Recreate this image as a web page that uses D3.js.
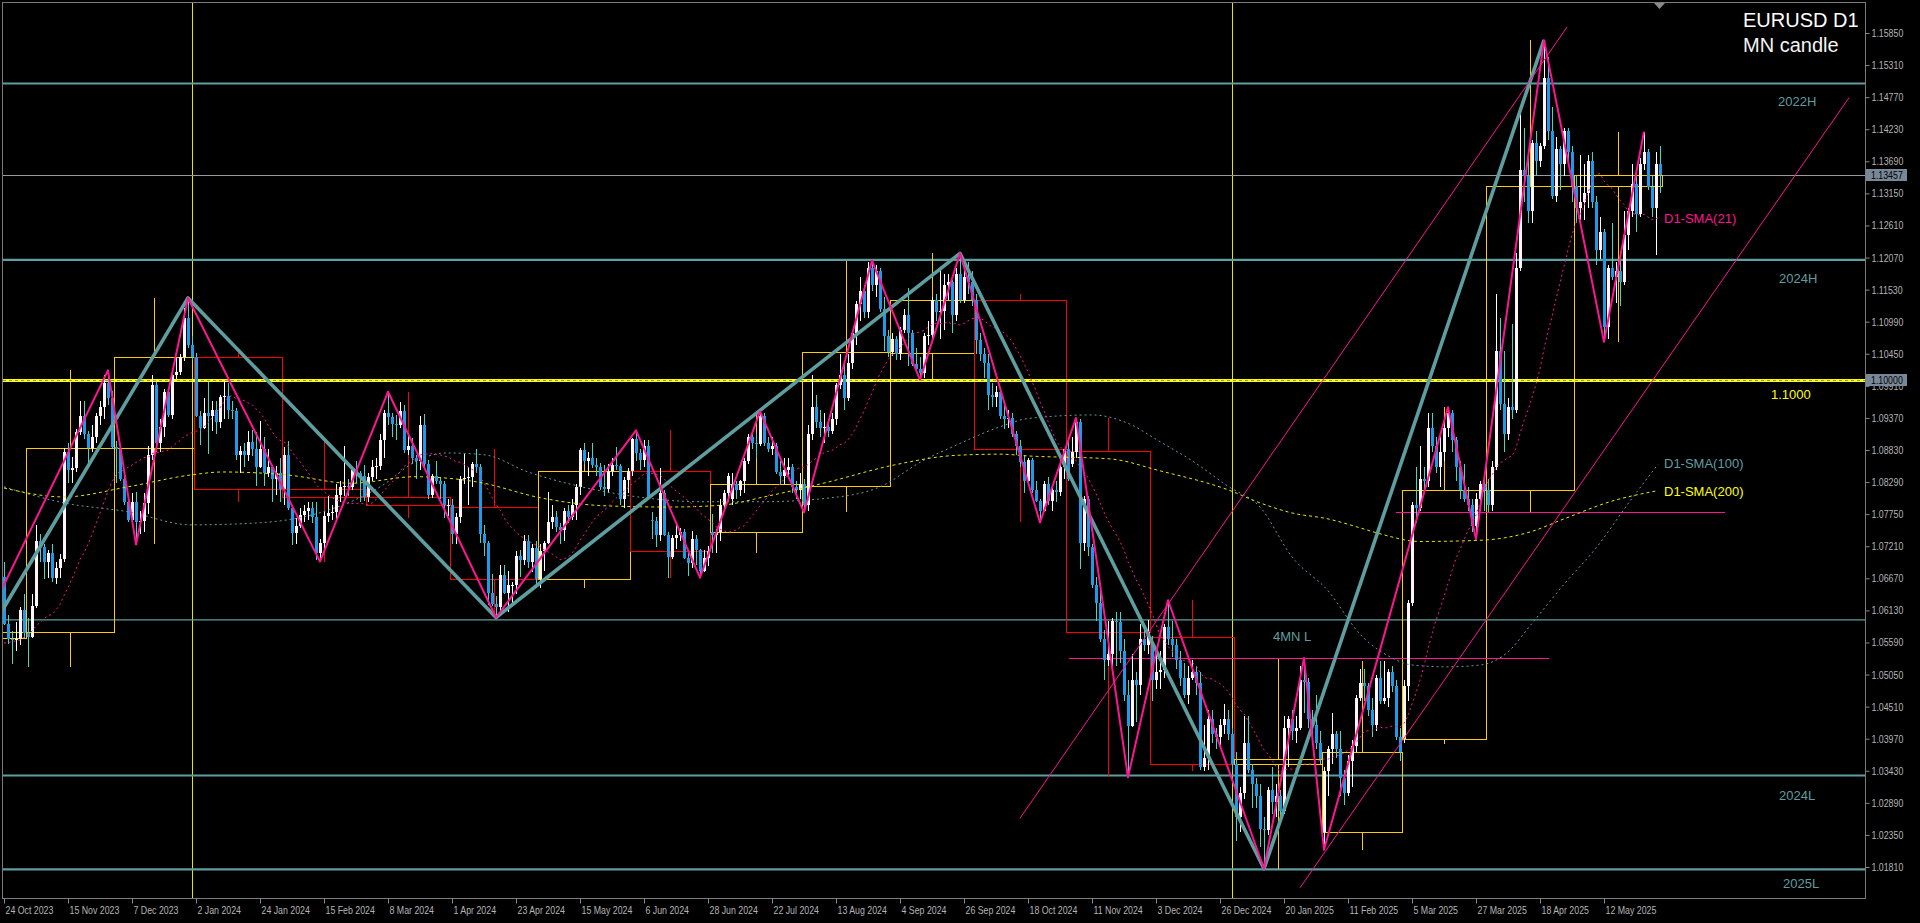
<!DOCTYPE html>
<html><head><meta charset="utf-8">
<script src="https://cdn.jsdelivr.net/npm/d3@7"></script>
<style>
html,body{margin:0;padding:0;background:#000;overflow:hidden;}
svg{display:block;}
text{font-family:"Liberation Sans",Arial,sans-serif;}
.ax text{font-family:"Liberation Sans",Arial,sans-serif;font-size:11px;fill:#b4b4b4;}
</style></head><body>
<svg id="c" width="1920" height="923"></svg>
<script>
// ---------------- DATA ----------------
// closes of the 20 sessions before the first visible bar (26 Sep - 23 Oct 2023), used for SMA(21)
const preCloses = [1.0570,1.0500,1.0565,1.0573,1.0475,1.0470,1.0505,1.0550,1.0588,1.0565,1.0605,1.0620,1.0530,1.0510,1.0555,1.0575,1.0535,1.0580,1.0595,1.0670];

// daily EURUSD bars from 24 Oct 2023, [open, high, low, close] in pips above 1.0000
const ohlc = [
[670,695,588,590],[590,606,557,565],[565,578,522,564],[564,594,545,565],[565,618,555,613],[613,640,567,575],
[575,600,517,568],[568,640,567,620],[620,756,617,730],[730,742,694,720],[720,725,665,695],[695,715,668,710],[710,725,660,667],[667,695,657,685],[685,708,667,700],[700,887,694,880],[880,895,828,850],[850,872,828,852],[852,918,846,913],[913,965,908,940],[940,965,902,910],[910,915,852,887],[887,925,880,905],[905,945,895,940],[940,965,925,955],[955,1010,935,995],[995,1017,958,970],[970,982,885,888],
[888,898,828,884],[884,892,830,835],[835,840,790,795],[795,805,762,765],[765,810,756,795],[795,813,724,762],[762,780,742,763],[763,810,745,794],[794,890,775,874],[874,1009,866,993],[993,998,880,895],[895,935,880,922],[922,985,905,980],[980,985,938,942],[942,1012,935,1010],[1010,1040,1002,1015],[1015,1045,1010,1040],[1040,1122,1032,1105],[1105,1139,1055,1060],[1060,1075,1034,1039],
[1039,1046,938,940],[940,948,892,920],[920,970,918,945],[945,998,877,940],[940,965,915,950],[950,965,910,930],[930,975,920,972],[972,999,935,974],[974,995,935,950],[950,965,935,948],[948,953,866,875],[875,890,844,882],[882,895,855,875],[875,915,865,897],[897,917,873,885],[885,914,822,855],[855,932,852,885],[885,905,822,845],[845,885,838,855],[855,858,795,835],[835,856,807,845],[845,870,796,818],
[818,888,790,875],[875,898,782,785],[785,790,723,743],[743,769,725,755],[755,785,752,774],[774,790,762,780],[780,795,765,785],[785,795,760,770],[770,795,698,710],[710,733,695,726],[726,780,718,772],[772,805,762,777],[777,790,765,779],[779,825,761,808],[808,830,795,820],[820,889,805,823],[823,835,805,820],[820,855,815,850],[850,865,828,845],[845,848,796,840],[840,858,797,804],
[804,845,796,838],[838,866,830,855],[855,870,835,856],[856,910,850,900],[900,950,870,946],[946,981,925,938],[938,945,905,927],[927,942,900,925],[925,964,920,948],[948,958,878,883],[883,906,875,890],[890,904,860,870],[870,875,835,865],[865,940,850,925],[925,943,855,860],[860,866,800,808],[808,843,802,840],[840,865,826,830],[830,838,800,825],[825,830,768,790],[790,800,772,791],
[791,800,724,741],[741,777,725,770],[770,840,760,835],[835,876,825,836],[836,855,791,838],[838,862,820,860],[860,885,845,855],[855,860,727,742],[742,757,705,727],[727,730,622,642],[642,674,620,624],[624,637,601,618],[618,690,610,672],[672,690,640,643],[643,680,610,655],[655,660,623,656],[656,713,640,704],[704,715,669,697],[697,740,690,730],[730,740,685,694],[694,725,678,718],[718,730,650,666],
[666,725,650,713],[713,730,680,726],[726,812,725,762],[762,790,750,770],[770,780,745,754],[754,760,724,748],[748,785,730,781],[781,790,760,771],[771,800,765,790],[790,825,765,821],[821,887,808,883],[883,895,860,865],[865,880,840,870],[870,895,853,857],[857,870,840,855],[855,861,815,820],[820,857,805,817],[817,860,811,847],[847,870,840,858],[858,888,850,856],[856,860,790,800],[800,838,785,832],[832,852,810,848],
[848,904,840,902],[902,916,865,878],[878,885,850,867],[867,900,855,890],[890,900,800,801],[765,779,733,763],[763,770,719,740],[740,852,730,810],[810,815,738,740],[740,745,668,703],[703,740,700,735],[735,761,716,740],[740,752,730,745],[745,750,700,702],[702,710,671,692],[692,746,685,733],[733,740,690,715],[715,717,668,680],[680,715,677,701],[701,721,687,713],
[745,776,710,740],[740,750,709,745],[745,800,730,790],[790,815,780,810],[810,845,795,840],[800,845,790,825],[825,830,800,815],[815,832,805,830],[830,870,810,865],[865,910,860,905],[905,910,885,895],[895,910,870,893],[893,948,890,940],[940,945,890,895],[895,905,880,885],[885,905,875,890],[890,895,842,846],[846,865,825,840],[840,870,825,850],[850,870,840,855],[855,860,810,820],[820,830,800,815],[815,845,800,825],
[825,835,778,790],[790,925,780,910],[910,1009,900,955],[955,975,920,930],[930,950,905,920],[920,945,895,922],[922,935,905,915],[915,945,910,935],[935,995,925,992],[992,1045,985,1010],[1010,1030,950,970],[970,1045,965,1030],[1030,1085,1020,1080],[1080,1133,1060,1128],[1128,1175,1100,1150],[1150,1160,1105,1115],[1115,1200,1105,1190],[1190,1202,1150,1160],[1160,1195,1140,1185],[1185,1190,1115,1120],[1120,1140,1050,1075],[1075,1085,1040,1048],
[1048,1080,1042,1070],[1070,1075,1035,1045],[1045,1090,1035,1085],[1085,1120,1080,1110],[1110,1155,1025,1080],[1080,1085,1025,1027],[1027,1055,1015,1020],[1020,1040,1001,1012],[1012,1080,1005,1075],[1075,1100,1060,1077],[1077,1140,1070,1135],[1135,1145,1100,1115],[1115,1190,1070,1117],[1117,1180,1085,1160],[1160,1180,1135,1165],[1165,1170,1080,1110],[1110,1190,1100,1180],[1180,1214,1130,1135],[1135,1190,1130,1175],[1175,1200,1145,1165],[1165,1185,1125,1135],
[1135,1145,1045,1068],[1068,1080,1033,1045],[1045,1055,1005,1030],[1030,1045,950,975],[975,995,955,973],[973,990,955,980],[980,985,935,940],[940,965,918,935],[935,950,920,937],[937,945,905,910],[910,915,875,890],[890,900,855,862],[862,875,811,830],[830,870,826,866],[866,870,810,815],[815,830,795,797],[797,800,761,780],[780,830,778,826],[826,838,790,797],[797,820,780,816],[816,830,795,813],[813,870,805,855],[855,885,835,884],
[884,905,830,834],[860,905,855,880],[880,937,870,930],[930,935,682,727],[727,805,713,800],[800,805,705,720],[720,725,650,655],[655,670,595,625],[625,653,560,565],[565,580,496,530],[530,595,520,540],[540,600,520,595],[595,610,520,593],[593,610,525,545],[545,565,460,470],[470,495,332,418],[418,540,416,495],[495,510,425,487],[487,590,470,565],[565,580,545,555],[555,596,540,577],
[560,570,460,495],[495,545,480,510],[510,545,480,512],[512,590,500,585],[585,630,555,565],[565,595,535,555],[555,565,515,530],[530,545,485,500],[500,525,465,470],[470,520,455,500],[500,530,495,510],[510,520,470,490],[490,510,345,350],[350,420,343,365],[365,445,345,430],[430,445,390,405],[405,415,380,400],[400,430,385,420],[420,455,405,430],[430,445,395,405],[405,415,345,354],
[354,375,225,265],[265,315,240,305],[305,435,295,390],[390,435,340,345],[345,355,280,320],[320,330,280,300],[300,320,215,245],[245,265,178,244],[244,315,235,310],[310,350,270,290],[290,320,265,300],[300,310,265,275],[275,435,270,415],[415,435,350,430],[430,445,395,410],[410,435,390,415],[415,520,412,495],[495,533,440,493],[493,500,415,430],[430,445,400,420],[420,470,380,390],[390,410,355,362],
[240,350,210,343],[343,385,300,380],[380,440,355,405],[405,410,365,380],[380,410,300,330],[330,345,285,305],[305,370,300,360],[360,395,315,385],[385,470,375,465],[465,515,460,490],[490,515,460,485],[485,490,435,445],[445,465,400,420],[420,505,410,500],[500,528,455,460],[460,528,455,465],[465,515,450,510],[510,520,475,485],[485,495,395,400],[400,415,360,375],
[396,495,390,485],[485,630,460,625],[625,796,620,790],[790,855,760,785],[785,890,780,835],[835,855,810,830],[830,945,820,920],[920,945,880,890],[890,905,845,855],[855,905,820,880],[880,925,865,920],[920,955,905,945],[945,950,880,900],[900,905,830,855],[855,865,800,815],[815,860,795,800],[800,820,780,790],[790,800,745,755],[755,810,733,800],[800,830,780,825],[825,835,780,816],
[816,835,778,790],[790,865,780,855],[855,1145,850,1050],[1050,1105,950,960],[960,1050,880,910],[910,970,900,955],[955,1095,935,950],[950,1215,945,1190],[1190,1460,1185,1355],[1355,1425,1300,1345],[1345,1375,1265,1285],[1285,1405,1265,1400],[1400,1420,1345,1370],[1370,1400,1360,1395],[1395,1573,1390,1510],[1510,1545,1405,1420],[1420,1460,1305,1310],[1310,1410,1300,1390],[1390,1395,1320,1365],[1365,1425,1345,1420],[1420,1425,1370,1385],[1385,1395,1300,1328],
[1328,1345,1265,1290],[1290,1380,1270,1300],[1300,1365,1270,1315],[1315,1380,1290,1370],[1370,1385,1290,1300],[1300,1310,1195,1220],[1220,1275,1205,1250],[1250,1255,1065,1090],[1090,1195,1070,1190],[1190,1265,1170,1175],[1175,1200,1130,1185],[1185,1215,1125,1165],[1165,1285,1160,1245],[1245,1290,1220,1285],[1285,1365,1275,1330],[1330,1345,1250,1280],[1280,1375,1275,1365],[1365,1419,1355,1385],[1385,1390,1320,1325],[1325,1345,1275,1290],[1290,1385,1211,1365],[1365,1395,1315,1345.7]
];

// monthly candles ("MN candle"): month, open, high, low, close
const monthly = [
["2023-10",1.0567,1.0695,1.0448,1.0576],["2023-11",1.0576,1.1017,1.0517,1.0886],["2023-12",1.0886,1.1139,1.0724,1.1039],
["2024-01",1.1039,1.1046,1.0795,1.0818],["2024-02",1.0818,1.0898,1.0695,1.0804],["2024-03",1.0804,1.0981,1.0768,1.0790],
["2024-04",1.0787,1.0885,1.0601,1.0666],["2024-05",1.0666,1.0895,1.0650,1.0848],["2024-06",1.0848,1.0916,1.0668,1.0713],
["2024-07",1.0745,1.0948,1.0709,1.0825],["2024-08",1.0822,1.1202,1.0778,1.1048],["2024-09",1.1047,1.1214,1.1001,1.1135],
["2024-10",1.1135,1.1145,1.0761,1.0884],["2024-11",1.0881,1.0937,1.0332,1.0577],["2024-12",1.0568,1.0630,1.0343,1.0354],
["2025-01",1.0354,1.0533,1.0178,1.0362],["2025-02",1.0240,1.0528,1.0210,1.0375],["2025-03",1.0396,1.0955,1.0388,1.0816],
["2025-04",1.0816,1.1573,1.0778,1.1328],["2025-05",1.1328,1.1419,1.1065,1.13457]
];

// D1-SMA(100) and D1-SMA(200): [bar index, value]
const sma100 = [[0,1.0821],[15,1.0794],[31,1.0779],[46.75,1.0757],[62.75,1.0760],[78.75,1.0777],[94.75,1.0824],[102.75,1.0863],[110.5,1.0878],[120,1.0875],[131,1.0846],[142.5,1.0824],[158.5,1.0804],[174,1.0796],[190,1.0796],[206,1.0802],[219,1.0821],[230,1.0866],[237,1.0888],[249,1.0922],[256,1.0936],[272,1.0942],[281,1.0928],[289,1.0897],[297,1.0865],[306,1.0822],[314,1.0787],[322,1.0703],[331,1.0646],[339,1.0573],[347,1.0533],[352,1.0521],[361,1.0518],[369,1.0521],[376,1.0543],[381.5,1.0587],[390,1.0657],[398,1.0718],[406.5,1.0797],[413.5,1.0859]];
const sma200 = [[0,1.0819],[15,1.0804],[31,1.0821],[46.75,1.0841],[54.75,1.0846],[70.75,1.0841],[86.75,1.0827],[102.75,1.0838],[118.5,1.0829],[134.5,1.0802],[150.5,1.0789],[166.5,1.0787],[179.25,1.0790],[190,1.0804],[206,1.0829],[222,1.0857],[238,1.0874],[249,1.0876],[256,1.0873],[276.5,1.0868],[289,1.0848],[306,1.0816],[314,1.0794],[322,1.0777],[331,1.0767],[339,1.0752],[344,1.0742],[354,1.0729],[369,1.0731],[381.5,1.0745],[390,1.0767],[402,1.0797],[413,1.0814]];

// zigzag swing points [date, price]
const zigzagMinor = [["2023-10-03",1.0448],["2023-11-29",1.1017],["2023-12-08",1.0724],["2023-12-28",1.1139],["2024-02-14",1.0695],["2024-03-08",1.0981],["2024-04-16",1.0601],["2024-06-04",1.0916],["2024-06-26",1.0668],["2024-07-17",1.0948],["2024-08-01",1.0778],["2024-08-26",1.1202],["2024-09-11",1.1001],["2024-09-25",1.1214],["2024-10-23",1.0761],["2024-11-05",1.0937],["2024-11-22",1.0332],["2024-12-06",1.0630],["2025-01-13",1.0178],["2025-01-27",1.0533],["2025-02-03",1.0210],["2025-03-18",1.0955],["2025-03-27",1.0733],["2025-04-21",1.1573],["2025-05-12",1.1065],["2025-05-26",1.1419]];
const zigzagMajor = [["2023-10-03",1.0448],["2023-12-28",1.1139],["2024-04-16",1.0601],["2024-09-25",1.1214],["2025-01-13",1.0178],["2025-04-21",1.1573]];

// channel lines [bar index 1, price 1, bar index 2, price 2]
const channels = [[254,1.0263,390.75,1.1595],[324,1.0146,461.25,1.1476]];
// horizontal segments [from bar, to bar, price]
const pinkLevels = [[266.25,386.25,1.0533],[348,430.25,1.0779]];
// full-width levels [price, name]
const tealLevels = [[1.1500,"2022H"],[1.1203,"2024H"],[1.0597,""],[1.0335,"2024L"],[1.0177,"2025L"]];
const roundLevel = 1.1000;
const lastPrice = 1.13457;
const yearEnds = ["2023-12-29","2024-12-31"];

const priceTicks = [1.15850,1.15310,1.14770,1.14230,1.13690,1.13150,1.12610,1.12070,1.11530,1.10990,1.10450,1.09910,1.09370,1.08830,1.08290,1.07750,1.07210,1.06670,1.06130,1.05590,1.05050,1.04510,1.03970,1.03430,1.02890,1.02350,1.01810];
const dateTicks = ["24 Oct 2023","15 Nov 2023","7 Dec 2023","2 Jan 2024","24 Jan 2024","15 Feb 2024","8 Mar 2024","1 Apr 2024","23 Apr 2024","15 May 2024","6 Jun 2024","28 Jun 2024","22 Jul 2024","13 Aug 2024","4 Sep 2024","26 Sep 2024","18 Oct 2024","11 Nov 2024","3 Dec 2024","26 Dec 2024","20 Jan 2025","11 Feb 2025","5 Mar 2025","27 Mar 2025","18 Apr 2025","12 May 2025"];

// ---------------- CALENDAR ----------------
const dates = [];
{ let d = new Date(Date.UTC(2023,8,26));
  while (dates.length < preCloses.length + ohlc.length) {
    const wd = d.getUTCDay(), m = d.getUTCMonth(), dd = d.getUTCDate();
    if (wd !== 0 && wd !== 6 && !(m === 11 && dd === 25) && !(m === 0 && dd === 1)) dates.push(new Date(d.getTime()));
    d.setUTCDate(dd + 1);
  } }
const OFF = preCloses.length;
const idxOfTime = t => dates.findIndex(q => q.getTime() === t) - OFF;
const idxOf = s => idxOfTime(Date.parse(s));
const monthKey = d => d.getUTCFullYear() + "-" + String(d.getUTCMonth()+1).padStart(2,"0");

const bars = ohlc.map((a,i) => {
  const o = 1 + a[0]/1e4, c = 1 + a[3]/1e4;
  return {i, o, c, h: Math.max(1 + a[1]/1e4, o, c), l: Math.min(1 + a[2]/1e4, o, c)};
});
const allCloses = preCloses.concat(bars.map(b => b.c));
const sma21 = bars.map((b,i) => [i, d3.mean(allCloses.slice(i + OFF - 20, i + OFF + 1))]);

// ---------------- DRAW ----------------
const W = 1920, H = 923, L = 3, R = 1865, T = 3, B = 898;
const SX = 0.8; // narrow axis font
const x = d3.scaleLinear().domain([0,1]).range([4,8]);
const y = d3.scaleLinear().domain([1.0181,1.1585]).range([867,33]);
const px = v => Math.round(v) + 0.5;

const svg = d3.select("#c");
svg.append("rect").attr("width",W).attr("height",H).attr("fill","#000");
svg.append("defs").append("clipPath").attr("id","clip").append("rect")
  .attr("x",L).attr("y",T).attr("width",R-L).attr("height",B-T);
const g = svg.append("g").attr("clip-path","url(#clip)");

// year separators
g.append("g").selectAll("line").data(yearEnds).join("line")
  .attr("x1",d => px(x(idxOf(d)))).attr("x2",d => px(x(idxOf(d))))
  .attr("y1",T).attr("y2",B).attr("stroke","#e6e600").attr("stroke-width",1);

// full width teal levels
g.append("g").selectAll("line").data(tealLevels).join("line")
  .attr("x1",L).attr("x2",R).attr("y1",d => y(d[0])).attr("y2",d => y(d[0]))
  .attr("stroke","#5f9ea0").attr("stroke-width",d => d[1] ? 2.2 : 1.2);

// last price line
g.append("line").attr("x1",L).attr("x2",R).attr("y1",px(y(lastPrice))).attr("y2",px(y(lastPrice)))
  .attr("stroke","#9a9a9a").attr("stroke-width",1);

// monthly candles
const firstIdx = {};
dates.forEach((d,k) => { const mk = monthKey(d); if (!(mk in firstIdx)) firstIdx[mk] = k - OFF; });
const mn = monthly.map((m,k) => {
  const s = firstIdx[m[0]];
  const e = k + 1 < monthly.length ? firstIdx[monthly[k+1][0]] : ohlc.length;
  return {s, e, o:m[1], h:m[2], l:m[3], c:m[4]};
});
const mg = g.append("g").attr("shape-rendering","crispEdges");
mn.forEach(m => {
  const col = m.c >= m.o ? "#ffcc00" : "#ff0000";
  const x0 = Math.round(x(m.s)) - 2, x1 = Math.round(x(m.e)) - 2, xm = px((x0 + x1)/2);
  const yt = y(Math.max(m.o,m.c)), yb = y(Math.min(m.o,m.c));
  mg.append("rect").attr("x",x0+0.5).attr("y",Math.round(yt)+0.5).attr("width",x1-x0).attr("height",Math.max(1,Math.round(yb)-Math.round(yt)))
    .attr("fill","none").attr("stroke",col).attr("stroke-width",1);
  mg.append("line").attr("x1",xm).attr("x2",xm).attr("y1",y(m.h)).attr("y2",yt).attr("stroke",col);
  mg.append("line").attr("x1",xm).attr("x2",xm).attr("y1",yb).attr("y2",y(m.l)).attr("stroke",col);
});

// pink horizontal segments
g.append("g").selectAll("line").data(pinkLevels).join("line")
  .attr("x1",d => x(d[0])).attr("x2",d => x(d[1])).attr("y1",d => px(y(d[2]))).attr("y2",d => px(y(d[2])))
  .attr("stroke","#ff1493").attr("stroke-width",1);

// 1.1000 level
g.append("line").attr("x1",L).attr("x2",R).attr("y1",y(roundLevel)).attr("y2",y(roundLevel))
  .attr("stroke","#ffff00").attr("stroke-width",3.2);
g.append("line").attr("x1",L).attr("x2",R).attr("y1",y(roundLevel)).attr("y2",y(roundLevel))
  .attr("stroke","#7f8fa6").attr("stroke-width",1).attr("stroke-dasharray","3,3");

// candles
const cg = g.append("g").attr("shape-rendering","crispEdges");
cg.selectAll("line").data(bars).join("line")
  .attr("x1",d => px(x(d.i))).attr("x2",d => px(x(d.i)))
  .attr("y1",d => y(d.h)).attr("y2",d => y(d.l))
  .attr("stroke",d => d.c >= d.o ? "#ffffff" : "#3fd9c8").attr("stroke-width",1);
cg.selectAll("rect").data(bars).join("rect")
  .attr("x",d => Math.round(x(d.i)) - 1).attr("width",3)
  .attr("y",d => Math.round(y(Math.max(d.o,d.c))))
  .attr("height",d => Math.max(1, Math.round(y(Math.min(d.o,d.c))) - Math.round(y(Math.max(d.o,d.c)))))
  .attr("fill",d => d.c >= d.o ? "#fff4f6" : "#1e9be6");

// moving averages
const ln = d3.line().x(d => x(d[0])).y(d => y(d[1]));
const lnS = d3.line().x(d => x(d[0])).y(d => y(d[1])).curve(d3.curveMonotoneX);
g.append("path").attr("d",lnS(sma100)).attr("fill","none").attr("stroke","#5f9ea0").attr("stroke-width",1).attr("stroke-dasharray","2,3");
g.append("path").attr("d",lnS(sma200)).attr("fill","none").attr("stroke","#e8e800").attr("stroke-width",1).attr("stroke-dasharray","3,3");
g.append("path").attr("d",ln(sma21)).attr("fill","none").attr("stroke","#ff1493").attr("stroke-width",1).attr("stroke-dasharray","2,3");

// zigzags
const zz = arr => arr.map(p => [idxOf(p[0]), p[1]]);
g.append("path").attr("d",ln(zz(zigzagMajor))).attr("fill","none").attr("stroke","#5f9ea0").attr("stroke-width",3.6).attr("stroke-linejoin","round");
g.append("path").attr("d",ln(zz(zigzagMinor))).attr("fill","none").attr("stroke","#ff1493").attr("stroke-width",2).attr("stroke-linejoin","round");

// channel
g.append("g").selectAll("line").data(channels).join("line")
  .attr("x1",d => x(d[0])).attr("y1",d => y(d[1])).attr("x2",d => x(d[2])).attr("y2",d => y(d[3]))
  .attr("stroke","#ff1493").attr("stroke-width",1);

// text objects
const txt = (s, tx, ty, col, size) => g.append("text").attr("x",tx).attr("y",ty).attr("fill",col)
  .attr("font-size",size).text(s);
const lvlLbl = {"2022H":[1778,106],"2024H":[1779,283],"2024L":[1779,800],"2025L":[1783,888]};
tealLevels.filter(d => d[1]).forEach(d => txt(d[1], lvlLbl[d[1]][0], lvlLbl[d[1]][1], "#5f9ea0", 13));
txt("1.1000", 1771, 399, "#ffff00", 13);
txt("4MN L", 1273, 641, "#5f9ea0", 13);
txt("D1-SMA(21)", 1664, 223, "#ff1493", 13);
txt("D1-SMA(100)", 1664, 468, "#5f9ea0", 13);
txt("D1-SMA(200)", 1664, 496, "#ffff00", 13);
txt("EURUSD D1", 1743, 27, "#ffffff", 20);
txt("MN candle", 1743, 52, "#f4f4f4", 20);

// frame
svg.append("rect").attr("x",2.5).attr("y",2.5).attr("width",R-2).attr("height",B-2)
  .attr("fill","none").attr("stroke","#7a7a7a").attr("stroke-width",1);
svg.append("path").attr("d","M1654,3L1665,3L1659.5,9Z").attr("fill","#8a8a8a");

// price axis
const ya = svg.append("g").attr("class","ax").attr("transform",`translate(${R+0.5},0)`)
  .call(d3.axisRight(y).tickValues(priceTicks).tickSize(4).tickPadding(2).tickFormat(d3.format(".5f")));
ya.select(".domain").remove();
ya.selectAll(".tick line").attr("stroke","#8a8a8a");
ya.selectAll(".tick text").attr("x",6/SX).attr("transform",`scale(${SX},1)`);
const tag = v => {
  const ty = Math.round(y(v));
  svg.append("rect").attr("x",R+1).attr("y",ty-6).attr("width",41).attr("height",12).attr("fill","#788898");
  svg.append("text").attr("x",(R+6)/SX).attr("y",ty+4).attr("transform",`scale(${SX},1)`).attr("fill","#000")
    .attr("font-size",11).text(d3.format(".5f")(v));
};
tag(lastPrice); tag(roundLevel);

// time axis
const parse = d3.utcParse("%d %b %Y");
const tickIdx = dateTicks.map(s => idxOfTime(parse(s).getTime()));
const xa = svg.append("g").attr("class","ax").attr("transform",`translate(0,${B+0.5})`)
  .call(d3.axisBottom(x).tickValues(tickIdx).tickSize(5).tickPadding(3).tickFormat((d,i) => dateTicks[i]));
xa.select(".domain").remove();
xa.selectAll(".tick line").attr("stroke","#8a8a8a");
xa.selectAll(".tick text").attr("text-anchor","start").attr("x",1/SX).attr("transform",`scale(${SX},1)`);
</script>
</body></html>
